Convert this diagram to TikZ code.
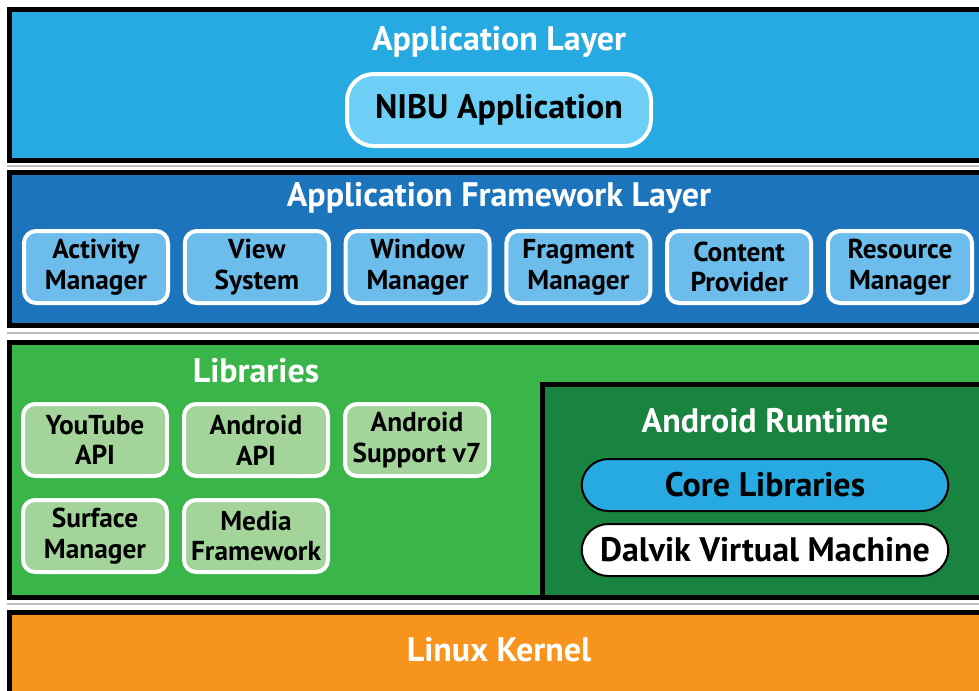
\documentclass[tikz,border=0pt]{standalone}
\usepackage{fontspec}
\setmainfont{PT Sans}
\usepackage{tikz}
\usetikzlibrary{positioning}

\definecolor{appblue}{HTML}{27AAE1}
\definecolor{nibublue}{HTML}{6DCFF6}
\definecolor{fwblue}{HTML}{1C75BC}
\definecolor{fwbox}{HTML}{6CBDEB}
\definecolor{libgreen}{HTML}{39B54A}
\definecolor{libbox}{HTML}{A3D59B}
\definecolor{rtgreen}{HTML}{18843F}
\definecolor{kernelorange}{HTML}{F7941D}

\begin{document}
\begin{tikzpicture}[x=0.75pt,y=-0.75pt,
		layer/.style={draw=black,line width=3.75pt},
		shade line/.style={draw=black!25,line width=1.5pt},
		title/.style={text=white,font=\bfseries\fontsize{25.5}{28}\selectfont},
		smallbox/.style={rounded corners=9pt,draw=white,line width=3pt,
			minimum width=108pt,minimum height=54pt,inner sep=0pt,align=center,
			font=\bfseries\fontsize{20.5}{23}\selectfont},
		pill/.style={rounded corners=20pt,draw=black,line width=1.5pt,
			minimum width=275pt,minimum height=39pt,inner sep=0pt,
			font=\bfseries\fontsize{25.5}{28}\selectfont}]
	\useasboundingbox (0,0) rectangle (979,690);
	
	% Application Layer
	\draw[layer,fill=appblue] (9.5,9.5) rectangle (1000,160.5);
	\draw[shade line] (7,166) -- (1000,166);
	\node[title] (apptitle) at (499,42) {Application Layer};
	\node[rounded corners=20pt,draw=white,line width=3pt,fill=nibublue,
		minimum width=228pt,minimum height=54pt,inner sep=0pt,
		font=\bfseries\fontsize{25.5}{28}\selectfont] (nibu) at (499,110) {NIBU Application};
	
	% Application Framework Layer
	\draw[layer,fill=fwblue] (9.5,172.5) rectangle (1000,325.5);
	\draw[shade line] (7,333) -- (1000,333);
	\node[title] (fwtitle) at (499,198) {Application Framework Layer};
	\foreach \i/\txt in {0/Activity\\Manager,1/View\\System,2/Window\\Manager,
		3/Fragment\\Manager,4/Content\\Provider,5/Resource\\Manager}
	\node[smallbox,fill=fwbox] (fw\i) at ({96+160.8*\i},267) {\txt};
	
	% Libraries
	\draw[layer,fill=libgreen] (9.5,342.5) rectangle (1000,597.5);
	\draw[shade line] (7,604) -- (1000,604);
	\node[title] (libtitle) at (256,371) {Libraries};
	\node[smallbox,fill=libbox] (youtube) at (95,440) {YouTube\\API};
	\node[smallbox,fill=libbox] (andapi) at (256,440) {Android\\API};
	\node[smallbox,fill=libbox] (support) at (417,440) {Android\\Support v7};
	\node[smallbox,fill=libbox] (surface) at (95,536) {Surface\\Manager};
	\node[smallbox,fill=libbox] (media) at (256,536) {Media\\Framework};
	
	% Android Runtime
	\draw[layer,fill=rtgreen] (542.5,384.5) rectangle (1000,597.5);
	\node[title] (rttitle) at (765,421) {Android Runtime};
	\node[pill,fill=appblue] (core) at (765,485) {Core Libraries};
	\node[pill,fill=white] (dalvik) at (765,550) {Dalvik Virtual Machine};
	
	% Linux Kernel
	\draw[layer,fill=kernelorange] (9.5,612.5) rectangle (1000,720);
	\node[title] (kernel) at (499,650) {Linux Kernel};
\end{tikzpicture}
\end{document}
